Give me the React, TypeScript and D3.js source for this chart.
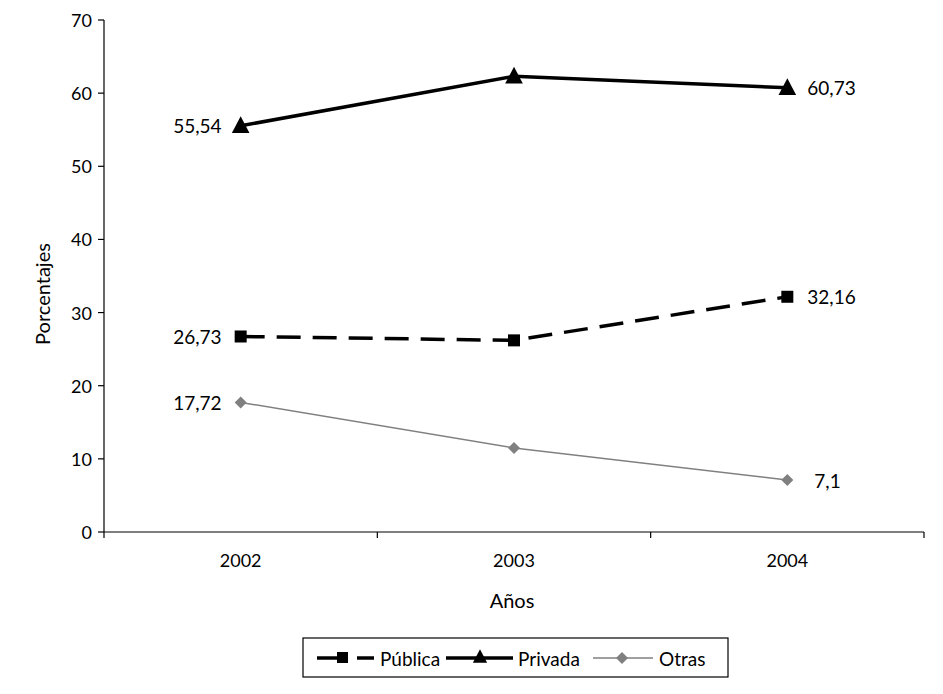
import React from "react";
import * as d3 from "d3";

const years = ["2002", "2003", "2004"];
const publica = [26.73, 26.2, 32.16];
const privada = [55.54, 62.3, 60.73];
const otras = [17.72, 11.5, 7.1];
const publicaLabels = ["26,73", "", "32,16"];
const privadaLabels = ["55,54", "", "60,73"];
const otrasLabels = ["17,72", "", "7,1"];
const yTicks = [0, 10, 20, 30, 40, 50, 60, 70];

const FONT = "Lato, 'Open Sans', sans-serif";

export default function App() {
  const W = 943, H = 694;
  const left = 104, right = 924, top = 20, bottom = 532;
  const x = d3.scaleBand<string>().domain(years).range([left, right]);
  const y = d3.scaleLinear().domain([0, 70]).range([bottom, top]);
  const cx = (i: number) => (x(years[i]) as number) + x.bandwidth() / 2;
  const line = d3.line<number>().x((_, i) => cx(i)).y((d) => y(d));

  const tri = (px: number, py: number, s: number) =>
    `M${px},${py - s * 0.6}L${px + s * 0.55},${py + s * 0.45}L${px - s * 0.55},${py + s * 0.45}Z`;
  const dia = (px: number, py: number, s: number) =>
    `M${px},${py - s}L${px + s},${py}L${px},${py + s}L${px - s},${py}Z`;

  const label = (v: number, i: number, text: string, dy = 0) => {
    if (!text) return null;
    const isLeft = i === 0;
    return (
      <text
        key={text}
        x={isLeft ? cx(i) - 19 : cx(i) + (text === "7,1" ? 27 : 20)}
        y={y(v) + dy}
        textAnchor={isLeft ? "end" : "start"}
        dominantBaseline="central"
        fontSize={19}
        fontFamily={FONT}
        fill="#000"
      >
        {text}
      </text>
    );
  };

  return (
    <svg width={W} height={H} style={{ display: "block", position: "absolute", left: 0, top: 0 }}>
      <rect width={W} height={H} fill="#fff" />
      {/* y axis */}
      <line x1={left} x2={left} y1={top} y2={bottom} stroke="#000" strokeWidth={1.2} />
      {yTicks.map((t) => (
        <g key={t}>
          <line x1={left - 6} x2={left} y1={y(t)} y2={y(t)} stroke="#000" strokeWidth={1.2} />
          <text x={left - 12} y={y(t)} textAnchor="end" dominantBaseline="central" fontSize={18} fontFamily={FONT}>
            {t}
          </text>
        </g>
      ))}
      {/* x axis */}
      <line x1={left} x2={right} y1={bottom} y2={bottom} stroke="#000" strokeWidth={1.2} />
      {[...years.map((d) => x(d) as number), right].map((p, i) => (
        <line key={i} x1={p} x2={p} y1={bottom} y2={bottom + 6} stroke="#000" strokeWidth={1.2} />
      ))}
      {years.map((d, i) => (
        <text key={d} x={cx(i)} y={560} textAnchor="middle" dominantBaseline="central" fontSize={18} fontFamily={FONT}>
          {d}
        </text>
      ))}
      <text x={(left + right) / 2 - 2} y={600} textAnchor="middle" dominantBaseline="central" fontSize={20} fontFamily={FONT}>
        Años
      </text>
      <text
        transform={`translate(42,${(top + bottom) / 2 + 18}) rotate(-90)`}
        textAnchor="middle"
        dominantBaseline="central"
        fontSize={20}
        fontFamily={FONT}
      >
        Porcentajes
      </text>

      {/* Otras */}
      <path d={line(otras) as string} fill="none" stroke="#808080" strokeWidth={1.5} />
      {otras.map((v, i) => (
        <path key={i} d={dia(cx(i), y(v), 6)} fill="#808080" />
      ))}
      {/* Pública */}
      <path d={line(publica) as string} fill="none" stroke="#000" strokeWidth={3.5} strokeDasharray="24,12" />
      {publica.map((v, i) => (
        <rect key={i} x={cx(i) - 6} y={y(v) - 6} width={12} height={12} fill="#000" />
      ))}
      {/* Privada */}
      <path d={line(privada) as string} fill="none" stroke="#000" strokeWidth={3.5} />
      {privada.map((v, i) => (
        <path key={i} d={tri(cx(i), y(v), 16)} fill="#000" />
      ))}

      {privada.map((v, i) => label(v, i, privadaLabels[i]))}
      {publica.map((v, i) => label(v, i, publicaLabels[i]))}
      {otras.map((v, i) => label(v, i, otrasLabels[i]))}

      {/* legend */}
      <rect x={303} y={638} width={425} height={39} fill="#fff" stroke="#000" strokeWidth={1.2} />
      <line x1={317} x2={345} y1={658} y2={658} stroke="#000" strokeWidth={3.5} />
      <line x1={357} x2={374} y1={658} y2={658} stroke="#000" strokeWidth={3.5} />
      <rect x={337} y={652} width={11} height={11} fill="#000" />
      <text x={380} y={658} dominantBaseline="central" fontSize={19} fontFamily={FONT}>Pública</text>
      <line x1={446} x2={513} y1={658} y2={658} stroke="#000" strokeWidth={3.5} />
      <path d={tri(480, 657, 13)} fill="#000" />
      <text x={518} y={658} dominantBaseline="central" fontSize={19} fontFamily={FONT}>Privada</text>
      <line x1={593} x2={653} y1={658} y2={658} stroke="#808080" strokeWidth={1.5} />
      <path d={dia(622, 658, 6)} fill="#808080" />
      <text x={659} y={658} dominantBaseline="central" fontSize={19} fontFamily={FONT}>Otras</text>
    </svg>
  );
}
